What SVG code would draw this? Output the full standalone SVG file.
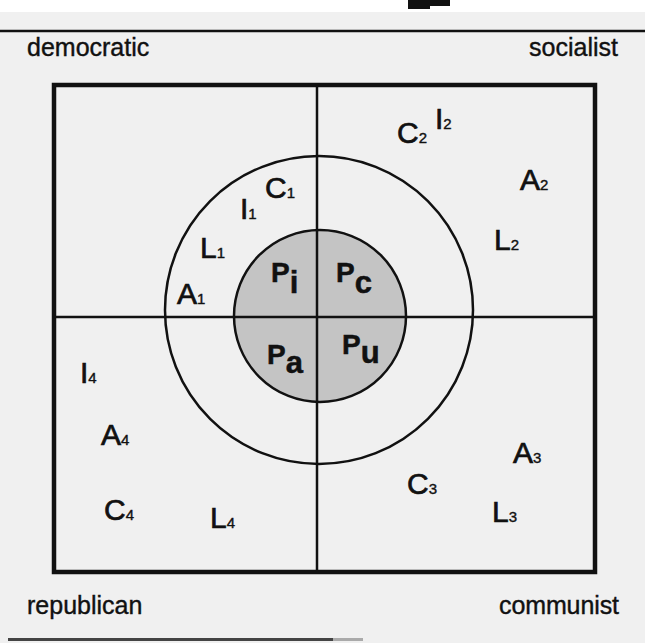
<svg xmlns="http://www.w3.org/2000/svg" width="645" height="643" viewBox="0 0 645 643">
<style>
.lbl{font-family:"Liberation Sans",Arial,sans-serif;font-size:25px;fill:#111;stroke:#111;stroke-width:0.4}
.n{font-family:"Liberation Sans",Arial,sans-serif;font-size:30px;fill:#111;stroke:#111;stroke-width:0.7}
.s{font-size:15px;stroke-width:0.4}
.p{font-family:"Liberation Sans",Arial,sans-serif;font-weight:bold;font-size:28px;fill:#111;stroke:#111;stroke-width:0.5}
.ps{font-size:31px}
.ln{stroke:#111;fill:none}
</style>
<rect x="0" y="0" width="645" height="643" fill="#f0f0f0"/>
<rect x="0" y="0" width="645" height="12" fill="#ffffff"/>
<polygon points="408,0 450,0 450,6 430,6 430,9 408,9" fill="#111"/>
<line class="ln" x1="0" y1="31" x2="645" y2="31" stroke-width="2.5"/>
<rect x="8" y="638" width="325" height="3" fill="#444"/>
<rect x="333" y="638" width="30" height="3" fill="#aaa"/>

<g id="corner-labels">
<text class="lbl" x="27" y="56">democratic</text>
<text class="lbl" x="618" y="56" text-anchor="end">socialist</text>
<text class="lbl" x="27" y="614">republican</text>
<text class="lbl" x="619" y="614" text-anchor="end" textLength="120">communist</text>
</g>

<g id="frame">
<rect class="ln" x="54" y="85" width="541" height="487" stroke-width="4.5"/>
</g>

<g id="outer-circle">
<circle class="ln" cx="319" cy="310" r="154" stroke-width="2.5"/>
</g>

<g id="inner-circle">
<circle cx="320" cy="316" r="86" fill="#c4c4c4" stroke="#111" stroke-width="2.5"/>
</g>

<g id="connectors">
<line class="ln" x1="317" y1="85" x2="317" y2="572" stroke-width="2.5"/>
<line class="ln" x1="54" y1="317" x2="595" y2="317" stroke-width="2.5"/>
</g>

<g id="core-labels">
<text class="p" x="271" y="282">P<tspan class="ps" dy="11">i</tspan></text>
<text class="p" x="336" y="282">P<tspan class="ps" dy="11">c</tspan></text>
<text class="p" x="267" y="364">P<tspan class="ps" dy="9">a</tspan></text>
<text class="p" x="342" y="354">P<tspan class="ps" dy="9">u</tspan></text>
</g>

<g id="q1">
<text class="n" x="265" y="198">C<tspan class="s">1</tspan></text>
<text class="n" x="240" y="219">I<tspan class="s">1</tspan></text>
<text class="n" x="200" y="258">L<tspan class="s">1</tspan></text>
<text class="n" x="177" y="304">A<tspan class="s">1</tspan></text>
</g>
<g id="q2">
<text class="n" x="397" y="143">C<tspan class="s">2</tspan></text>
<text class="n" x="435" y="129">I<tspan class="s">2</tspan></text>
<text class="n" x="520" y="190">A<tspan class="s">2</tspan></text>
<text class="n" x="494" y="250">L<tspan class="s">2</tspan></text>
</g>
<g id="q3">
<text class="n" x="513" y="463">A<tspan class="s">3</tspan></text>
<text class="n" x="407" y="494">C<tspan class="s">3</tspan></text>
<text class="n" x="492" y="522">L<tspan class="s">3</tspan></text>
</g>
<g id="q4">
<text class="n" x="80" y="383">I<tspan class="s">4</tspan></text>
<text class="n" x="101" y="445">A<tspan class="s">4</tspan></text>
<text class="n" x="104" y="520">C<tspan class="s">4</tspan></text>
<text class="n" x="210" y="528">L<tspan class="s">4</tspan></text>
</g>
</svg>
